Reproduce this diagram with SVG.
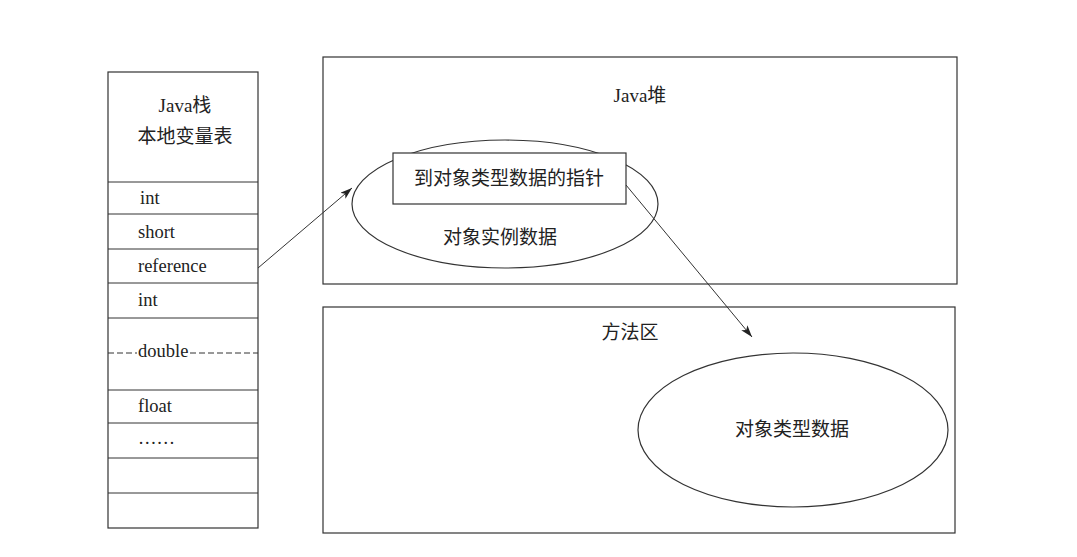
<svg xmlns="http://www.w3.org/2000/svg" width="1077" height="557" viewBox="0 0 1077 557">
<defs>
<style>
.box{fill:none;stroke:#333;stroke-width:1.2}
.wbox{fill:#fff;stroke:#333;stroke-width:1.2}
.ln{stroke:#333;stroke-width:1}
.en{font-family:"Liberation Serif",serif;font-size:18.5px;fill:#222}
.cn{font-family:"Liberation Serif","Noto Sans CJK SC",serif;font-size:19px;fill:#222}
.conn{fill:none;stroke:#333;stroke-width:1}
</style>
<marker id="ah" viewBox="0 0 12 8" refX="12" refY="4" markerWidth="12" markerHeight="8" markerUnits="userSpaceOnUse" orient="auto">
<path d="M0,0 L12,4 L0,8 L3,4 Z" fill="#222"/>
</marker>
</defs>
<rect width="1077" height="557" fill="#fff"/>
<g id="stack">
<rect class="box" x="108" y="72" width="150" height="456"/>
<line class="ln" x1="108" y1="182" x2="258" y2="182"/>
<line class="ln" x1="108" y1="214" x2="258" y2="214"/>
<line class="ln" x1="108" y1="249" x2="258" y2="249"/>
<line class="ln" x1="108" y1="283" x2="258" y2="283"/>
<line class="ln" x1="108" y1="318" x2="258" y2="318"/>
<line class="ln" x1="108" y1="353" x2="137" y2="353" stroke-dasharray="6,3" stroke-width="1.3"/>
<line class="ln" x1="190" y1="353" x2="258" y2="353" stroke-dasharray="6,3" stroke-width="1.3"/>
<line class="ln" x1="108" y1="390" x2="258" y2="390"/>
<line class="ln" x1="108" y1="423" x2="258" y2="423"/>
<line class="ln" x1="108" y1="458" x2="258" y2="458"/>
<line class="ln" x1="108" y1="493" x2="258" y2="493"/>
<text class="cn" x="185" y="112" text-anchor="middle">Java栈</text>
<text class="cn" x="185" y="143" text-anchor="middle">本地变量表</text>
<text class="en" x="140" y="204">int</text>
<text class="en" x="138" y="238">short</text>
<text class="en" x="138" y="272">reference</text>
<text class="en" x="138" y="306">int</text>
<text class="en" x="138" y="357">double</text>
<text class="en" x="138" y="412">float</text>
<text class="en" x="138" y="444">……</text>
</g>
<g id="heap">
<rect class="box" x="323" y="57" width="634" height="227"/>
<text class="cn" x="640" y="102" text-anchor="middle">Java堆</text>
</g>
<g id="instance">
<ellipse class="box" cx="505" cy="204" rx="153" ry="64"/>
<text class="cn" x="500" y="244" text-anchor="middle">对象实例数据</text>
</g>
<g id="pointer">
<rect class="wbox" x="393" y="153" width="233" height="51"/>
<text class="cn" x="509" y="185" text-anchor="middle">到对象类型数据的指针</text>
</g>
<g id="method">
<rect class="box" x="323" y="307" width="632" height="226"/>
<text class="cn" x="630" y="339" text-anchor="middle">方法区</text>
</g>
<g id="typedata">
<ellipse class="box" cx="793" cy="430" rx="155" ry="77"/>
<text class="cn" x="792" y="436" text-anchor="middle">对象类型数据</text>
</g>
<g id="connectors">
<line class="conn" x1="258" y1="268" x2="352" y2="188" marker-end="url(#ah)"/>
<line class="conn" x1="626" y1="185" x2="752" y2="337" marker-end="url(#ah)"/>
</g>
</svg>
